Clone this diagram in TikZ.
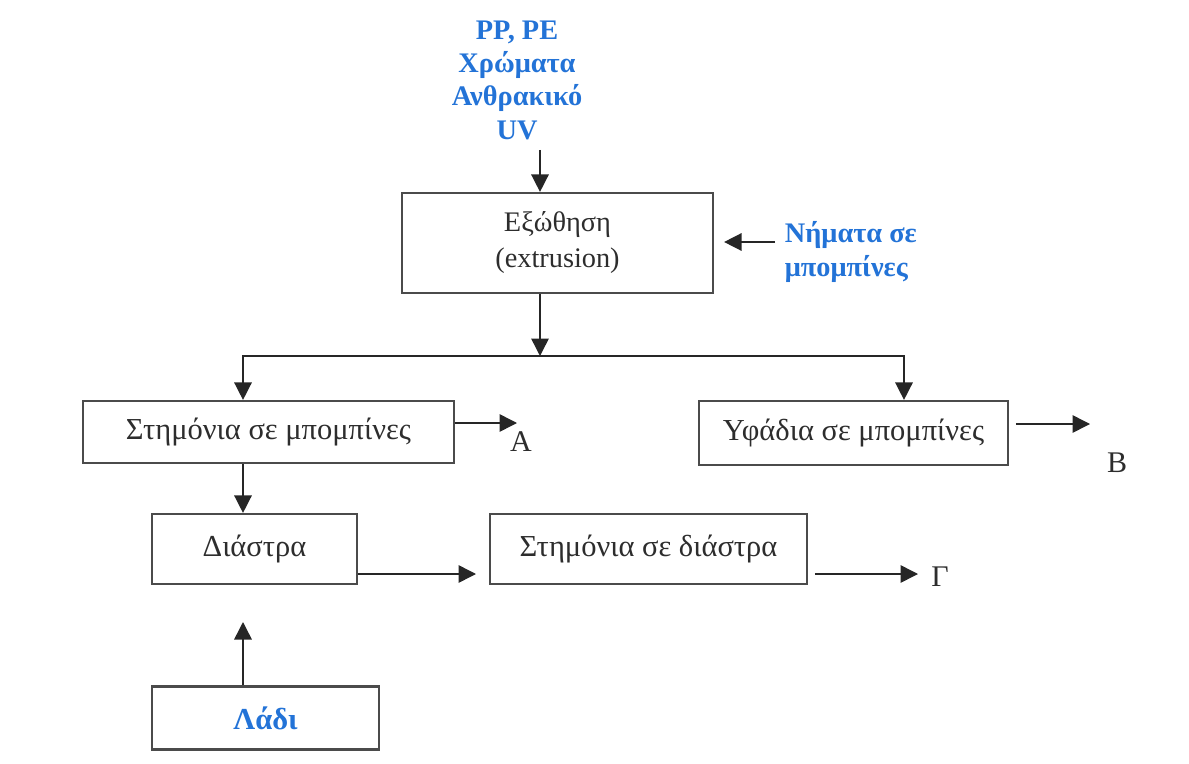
\documentclass[tikz,border=0pt]{standalone}
\usepackage{fontspec}
\setmainfont{Liberation Serif}
\usetikzlibrary{arrows.meta}
\definecolor{inkblue}{RGB}{35,115,215}
\definecolor{boxline}{RGB}{75,75,75}
\definecolor{boxtext}{RGB}{45,45,45}
\begin{document}
\begin{tikzpicture}[x=0.6pt,y=-0.6pt,
  stepbox/.style={draw=boxline, line width=1.3pt, inner sep=0pt, align=center,
    text=boxtext, font=\fontsize{18.3}{21.6}\selectfont},
  flow/.style={draw=black!85, line width=0.9pt,
    -{Triangle[length=10.5pt,width=10.5pt]}},
  feed/.style={font=\fontsize{17}{20}\bfseries\selectfont, text=inkblue},
  outlabel/.style={font=\fontsize{18}{20}\selectfont, text=boxtext, inner sep=0pt}]
\useasboundingbox (0,0) rectangle (1189,764);

% process boxes
\node[stepbox, minimum width=186.6pt, minimum height=60pt,
  font=\fontsize{17}{21.6}\selectfont] (extr) at (557.5,243)
  {Εξώθηση\\(extrusion)};
\node[stepbox, minimum width=222.6pt, minimum height=37.2pt] (warp) at (268.5,432)
  {Στημόνια σε μπομπίνες};
\node[stepbox, minimum width=185.4pt, minimum height=38.4pt] (weft) at (853.5,433)
  {Υφάδια σε μπομπίνες};
\node[stepbox, minimum width=123pt, minimum height=42pt] (creel) at (254.5,549)
  {Διάστρα};
\node[stepbox, minimum width=190.2pt, minimum height=42pt] (wcreel) at (648.5,549)
  {Στημόνια σε διάστρα};
\node[stepbox, minimum width=136.2pt, minimum height=37.8pt] (oil) at (265.5,718)
  {\bfseries\color{inkblue}Λάδι};

% raw materials and bought-in threads
\node[feed, align=center] (raw) at (517,80) {PP, PE\\Χρώματα\\Ανθρακικό\\UV};
\node[feed, align=left, anchor=west] (threads) at (779,252) {Νήματα σε\\μπομπίνες};

% outputs
\node[outlabel] (outA) at (521,442) {Α};
\node[outlabel] (outB) at (1117,463) {Β};
\node[outlabel] (outC) at (940,577) {Γ};

% free ends of connectors
\coordinate (rawEnd) at (540,150);
\coordinate (thrEnd) at (775,242);
\coordinate (split) at (540,356);
\coordinate (jL) at (243,356);
\coordinate (jR) at (904,356);
\coordinate (tipA) at (517,423);
\coordinate (tipB) at (1090,424);
\coordinate (tipC) at (918,574);
\coordinate (tipW) at (476,574);
\coordinate (tipOil) at (243,622);

% connectors
\draw[flow] (rawEnd) -- (rawEnd |- extr.north);
\draw[flow] (thrEnd) -- ([xshift=6pt]extr.east |- thrEnd);
\draw[flow] (extr.south -| split) -- (split);
\draw[flow] (split) -- (jL) -- (jL |- warp.north);
\draw[flow] (split) -- (jR) -- (jR |- weft.north);
\draw[flow] (warp.east |- tipA) -- (tipA);
\draw[flow] ([xshift=4pt]weft.east |- tipB) -- (tipB);
\draw[flow] (warp.south -| jL) -- (creel.north -| jL);
\draw[flow] (creel.east |- tipW) -- (tipW);
\draw[flow] ([xshift=4pt]wcreel.east |- tipC) -- (tipC);
\draw[flow] (oil.north -| tipOil) -- (tipOil);
\end{tikzpicture}
\end{document}
